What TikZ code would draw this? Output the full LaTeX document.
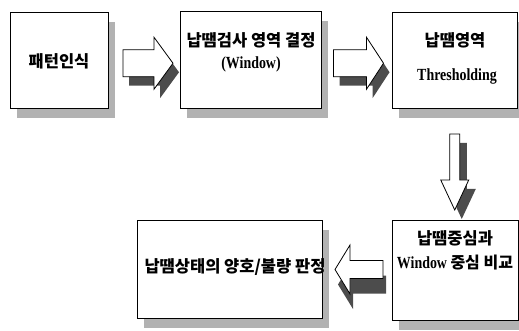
\documentclass[tikz,border=0pt]{standalone}
\usepackage{fontspec}
\setmainfont{Liberation Serif}[FakeStretch=0.82]
\newfontfamily\kr{Noto Sans CJK KR}
\usetikzlibrary{shadows,calc}
\begin{document}
\begin{tikzpicture}[x=1pt,y=-1pt,
  box/.style={draw=black, line width=0.8pt, fill=white, inner sep=0pt,
    drop shadow={shadow xshift=7pt, shadow yshift=-10pt, fill=gray!60, opacity=1}},
  lbl/.style={font=\fontsize{17}{19}\selectfont\bfseries, inner sep=0pt, align=center},
  krf/.style={font=\fontsize{16.5}{19}\selectfont\kr\bfseries},
  abody/.style={draw=black, line width=0.8pt, fill=white, line join=miter},
  ashadow/.style={fill=black!70},
  pics/barrow/.style n args={4}{code={%
    \path[pic actions] (-#1/2,-#2/2) -- (#1/2-#4,-#2/2) -- (#1/2-#4,-#3/2) -- (#1/2,0)
      -- (#1/2-#4,#3/2) -- (#1/2-#4,#2/2) -- (-#1/2,#2/2) -- cycle;}}
]
\useasboundingbox (0,0) rectangle (519,331);
% boxes
\node[box, minimum width=98pt, minimum height=96pt] (b1) at (59,60) {};
\node[box, minimum width=141pt, minimum height=97pt] (b2) at (250.5,59.5) {};
\node[box, minimum width=125pt, minimum height=96pt] (b3) at (454.5,60) {};
\node[box, minimum width=126pt, minimum height=100pt] (b4) at (455,270) {};
\node[box, minimum width=185pt, minimum height=98pt] (b5) at (229.5,269) {};
% arrow anchors
\coordinate (a1) at ($(b1.east)!0.5!(b2.west)+(4,3.5)$);
\coordinate (a2) at ($(b2.east)!0.5!(b3.west)+(2,3.5)$);
\coordinate (a3) at ($(b3.south)!0.5!(b4.north)+(0,8)$);
\coordinate (a4) at ($(b5.east)!0.5!(b4.west)+(2,0)$);
% block arrows: shadow then body
\pic[ashadow] at ($(a1)+(6,9)$) {barrow={50}{27}{52}{19}};
\pic[abody] at (a1) {barrow={50}{27}{52}{19}};
\pic[ashadow] at ($(a2)+(6,9)$) {barrow={50}{27}{52}{17}};
\pic[abody] at (a2) {barrow={50}{27}{52}{17}};
\pic[ashadow, rotate=-90] at ($(a3)+(7,9)$) {barrow={76}{10}{28}{30}};
\pic[abody, rotate=-90] at (a3) {barrow={76}{10}{28}{30}};
\pic[ashadow, rotate=180] at ($(a4)+(3,15)$) {barrow={48}{18}{49}{15}};
\pic[abody, rotate=180] at (a4) {barrow={48}{18}{49}{15}};
% labels
\node[lbl, krf] (t1) at (59,61) {패턴인식};
\node[lbl, krf] (t2a) at (251,40) {납땜검사 영역 결정};
\node[lbl] (t2b) at (251,64) {(Window)};
\node[lbl, krf] (t3a) at (455,40) {납땜영역};
\node[lbl] (t3b) at (457,76) {Thresholding};
\node[lbl, krf] (t4a) at (455,238) {납땜중심과};
\node[lbl] (t4b) at (455,263) {Window {\kr\fontsize{16}{19}\selectfont 중심 비교}};
\node[lbl, krf] (t5) at (235,267) {납땜상태의 양호/불량 판정};
\end{tikzpicture}
\end{document}
